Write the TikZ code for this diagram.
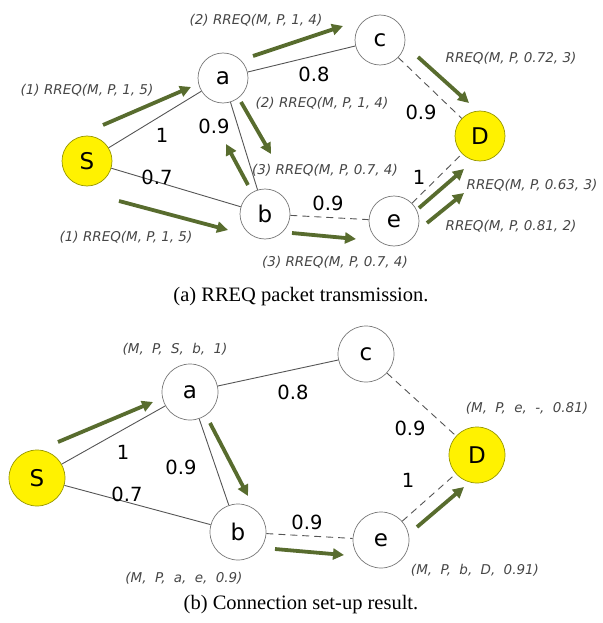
\documentclass[tikz,border=0pt]{standalone}
\usepackage{fontspec}
\setmainfont{Liberation Serif}
\newfontfamily\dv{DejaVu Sans}
\usetikzlibrary{arrows.meta}
\definecolor{olivearrow}{RGB}{88,108,46}
\definecolor{edgegray}{RGB}{85,85,85}
\definecolor{labgray}{RGB}{70,70,70}
\definecolor{ringgray}{RGB}{120,120,120}
\definecolor{ydraw}{RGB}{150,150,0}
\newcommand{\sepc}{,\kern0.3em\ }
\tikzset{
  nd/.style={circle,draw=ringgray,line width=0.7pt,fill=white,inner sep=0pt,font=\dv\fontsize{23}{26}\selectfont},
  ndtop/.style={nd,minimum size=50pt},
  ndbot/.style={nd,minimum size=56pt},
  yel/.style={fill=yellow,draw=ydraw},
  edge/.style={draw=edgegray,line width=0.9pt},
  dedge/.style={edge,dash pattern=on 7pt off 5pt},
  wt/.style={font=\dv\fontsize{19.5}{22}\selectfont,inner sep=0pt},
  rreq/.style={font=\dv\itshape\fontsize{13.5}{16}\selectfont,text=labgray,inner sep=0pt},
  tab/.style={font=\dv\itshape\fontsize{13.5}{16}\selectfont,text=labgray,inner sep=0pt},
  garrow/.style={draw=olivearrow,line width=3.8pt,-{Triangle[length=11pt,width=11pt]}},
  captext/.style={font=\fontsize{20.5}{24}\selectfont,inner sep=0pt}
}
\begin{document}
\begin{tikzpicture}[x=1pt,y=-1pt]
\useasboundingbox (0,0) rectangle (602,623);
% ---------- (a) ----------
\node[ndtop,yel] (S1) at (87,161) {S};
\node[ndtop] (a1) at (223,78) {a};
\node[ndtop] (c1) at (380,40) {c};
\node[ndtop,yel] (D1) at (480,136) {D};
\node[ndtop] (b1) at (265,214) {b};
\node[ndtop] (e1) at (394,221) {e};
\draw[edge] (S1) -- (a1);
\draw[edge] (a1) -- (c1);
\draw[edge] (a1) -- (b1);
\draw[edge] (S1) -- (b1);
\draw[dedge] (c1) -- (D1);
\draw[dedge] (b1) -- (e1);
\draw[dedge] (e1) -- (D1);
\node[wt] (w1) at (162,135) {1};
\node[wt] (w2) at (214,126) {0.9};
\node[wt] (w3) at (157,177) {0.7};
\node[wt] (w4) at (314,74) {0.8};
\node[wt] (w5) at (421,112) {0.9};
\node[wt] (w6) at (328,203) {0.9};
\node[wt] (w7) at (419,177) {1};
% arrows
\coordinate (p1s) at (103,125); \coordinate (p1e) at (191,87);
\coordinate (p2s) at (253,56);  \coordinate (p2e) at (343,26);
\coordinate (p3s) at (418,57);  \coordinate (p3e) at (469,103);
\coordinate (p4s) at (241,102); \coordinate (p4e) at (271,154);
\coordinate (p5s) at (248,185); \coordinate (p5e) at (226,144);
\coordinate (p6s) at (119,201); \coordinate (p6e) at (228,230);
\coordinate (p7s) at (292,233); \coordinate (p7e) at (356,239);
\coordinate (p8s) at (419,208); \coordinate (p8e) at (464,169);
\coordinate (p9s) at (427,223); \coordinate (p9e) at (464,193);
\foreach \i in {1,...,9} {\draw[garrow] (p\i s) -- (p\i e);}
\node[rreq] (r1) at (87,90) {(1) RREQ(M, P, 1, 5)};
\node[rreq] (r2) at (256,20) {(2) RREQ(M, P, 1, 4)};
\node[rreq] (r3) at (511,58) {RREQ(M, P, 0.72, 3)};
\node[rreq] (r4) at (322,103) {(2) RREQ(M, P, 1, 4)};
\node[rreq] (r5) at (325,170) {(3) RREQ(M, P, 0.7, 4)};
\node[rreq] (r6) at (532,185) {RREQ(M, P, 0.63, 3)};
\node[rreq] (r7) at (511,226) {RREQ(M, P, 0.81, 2)};
\node[rreq] (r8) at (126,237) {(1) RREQ(M, P, 1, 5)};
\node[rreq] (r9) at (335,262) {(3) RREQ(M, P, 0.7, 4)};
\node[captext] (capa) at (301,297) {(a) RREQ packet transmission.};
% ---------- (b) ----------
\node[ndbot,yel] (S2) at (37,478) {S};
\node[ndbot] (a2) at (190,392) {a};
\node[ndbot] (c2) at (366,354) {c};
\node[ndbot,yel] (D2) at (477,455) {D};
\node[ndbot] (b2) at (238,532) {b};
\node[ndbot] (e2) at (381,540) {e};
\draw[edge] (S2) -- (a2);
\draw[edge] (a2) -- (c2);
\draw[edge] (a2) -- (b2);
\draw[edge] (S2) -- (b2);
\draw[dedge] (c2) -- (D2);
\draw[dedge] (b2) -- (e2);
\draw[dedge] (e2) -- (D2);
\node[wt] (v1) at (123,452) {1};
\node[wt] (v2) at (181,467) {0.9};
\node[wt] (v3) at (127,494) {0.7};
\node[wt] (v4) at (293,392) {0.8};
\node[wt] (v5) at (410,428) {0.9};
\node[wt] (v6) at (307,522) {0.9};
\node[wt] (v7) at (408,480) {1};
\coordinate (q1s) at (58,442);  \coordinate (q1e) at (153,402);
\coordinate (q2s) at (210,423); \coordinate (q2e) at (248,496);
\coordinate (q3s) at (275,549); \coordinate (q3e) at (344,555);
\coordinate (q4s) at (417,527); \coordinate (q4e) at (464,487);
\foreach \i in {1,...,4} {\draw[garrow] (q\i s) -- (q\i e);}
\node[tab] (t1) at (175,349) {(M\sepc P\sepc S\sepc b\sepc 1)};
\node[tab] (t2) at (184,578) {(M\sepc P\sepc a\sepc e\sepc 0.9)};
\node[tab] (t3) at (475,570) {(M\sepc P\sepc b\sepc D\sepc 0.91)};
\node[tab] (t4) at (527,408) {(M\sepc P\sepc e\sepc -\sepc 0.81)};
\node[captext] (capb) at (301,605) {(b) Connection set-up result.};
\end{tikzpicture}
\end{document}
